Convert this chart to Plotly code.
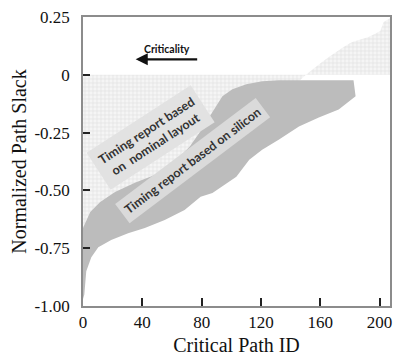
import plotly.graph_objects as go

# Nominal-layout slack, sorted by criticality (hidden under the silicon band where negative)
nominal_x = [0, 5, 10, 20, 30, 40, 50, 60, 70, 80, 90, 100, 110, 120, 130, 140, 150.3,
             155, 161.0, 166, 170.4, 176, 181.1, 187, 192.5, 197, 200.5, 202.7, 206.0, 207]
nominal_y = [-0.80, -0.70, -0.65, -0.62, -0.60, -0.57, -0.53, -0.49, -0.44, -0.39, -0.31,
             -0.22, -0.17, -0.14, -0.10, -0.06, 0.0,
             0.025, 0.054, 0.078, 0.098, 0.121, 0.141, 0.153, 0.163, 0.178, 0.189, 0.228, 0.241, 0.245]

# Silicon-measured slack spread: upper and lower envelopes of the band
silicon_upper_x = [0, 4.9, 11.6, 21.6, 35.0, 48.4, 61.8, 71.9, 78.6, 85.3, 90.0, 94.0,
                   100.7, 110.1, 120.8, 132.2, 150.3, 182.4, 183.8]
silicon_upper_y = [-0.663, -0.593, -0.550, -0.507, -0.467, -0.433, -0.376, -0.311, -0.250,
                   -0.180, -0.137, -0.093, -0.063, -0.041, -0.028, -0.024, -0.024, -0.024, -0.093]
silicon_lower_x = [183.8, 172.4, 159.0, 145.6, 132.2, 120.8, 112.1, 103.4, 87.3, 79.3, 68.5,
                   55.1, 41.7, 30.4, 19.0, 10.3, 5.6, 2.2, 0.9, 0]
silicon_lower_y = [-0.093, -0.150, -0.185, -0.224, -0.280, -0.324, -0.367, -0.441, -0.511,
                   -0.528, -0.585, -0.628, -0.663, -0.685, -0.715, -0.746, -0.789, -0.850,
                   -0.950, -0.970]

x_ticks = [0, 40, 80, 120, 160, 200]
y_ticks = [0.25, 0, -0.25, -0.5, -0.75, -1.0]
y_tick_text = ["0.25", "0", "-0.25", "-0.50", "-0.75", "-1.00"]

fig = go.Figure()

# Light cross-hatched area between zero and the nominal slack curve
fig.add_trace(go.Scatter(
    x=nominal_x, y=nominal_y, mode="lines", line=dict(width=0),
    fill="tozeroy", fillcolor="#f0f0f0",
    fillpattern=dict(shape="+", size=4, solidity=0.3, fgcolor="#cdcdcd", bgcolor="#f5f5f5"),
    hoverinfo="skip", showlegend=False,
))

# Mid-grey band for the silicon measurement
fig.add_trace(go.Scatter(
    x=silicon_upper_x + silicon_lower_x, y=silicon_upper_y + silicon_lower_y,
    mode="lines", line=dict(width=0), fill="toself", fillcolor="#bcbcbc",
    hoverinfo="skip", showlegend=False,
))

label_font = dict(family="Lato", size=12.5, color="#333333")

fig.add_annotation(
    x=45.5, y=-0.27, text="<b>Timing report based<br>on  nominal layout</b>",
    textangle=-33, showarrow=False, font=label_font,
    bgcolor="#e2e2e2", borderpad=6,
)
fig.add_annotation(
    x=74, y=-0.37, text="<b>Timing report based on silicon</b>",
    textangle=-37, showarrow=False, font=label_font,
    bgcolor="#dadada", borderpad=4,
)
fig.add_annotation(
    x=56.5, y=0.111, text="<b>Criticality</b>", showarrow=False,
    font=dict(family="Lato", size=10.5, color="#111111"),
)
fig.add_annotation(
    x=35.5, y=0.067, ax=78, ay=0.067, axref="x", ayref="y",
    text="", showarrow=True, arrowhead=2, arrowsize=1.1, arrowwidth=2.2, arrowcolor="#111111",
)

axis_font = dict(family="Liberation Serif", size=17, color="#111111")
title_font = dict(family="Liberation Serif", size=20, color="#111111")

fig.update_xaxes(
    range=[0, 207], tickvals=x_ticks, ticks="inside", ticklen=8, tickcolor="#222222",
    tickwidth=1.5, showgrid=False, zeroline=False, showline=True, mirror=True,
    linecolor="#8c8c8c", linewidth=1.5, tickfont=axis_font,
    title=dict(text="Critical Path ID", font=title_font, standoff=7),
)
fig.update_yaxes(
    range=[-1.0, 0.25], tickvals=y_ticks, ticktext=y_tick_text, ticks="inside", ticklen=7,
    tickcolor="#222222", tickwidth=1.5, showgrid=False, zeroline=False, showline=True,
    mirror=True, linecolor="#8c8c8c", linewidth=1.5, tickfont=axis_font,
    ticklabelstandoff=8,
    title=dict(text="Normalized Path Slack", font=title_font, standoff=2),
)

fig.update_layout(
    width=396, height=358, margin=dict(l=83, r=4, t=17, b=52),
    paper_bgcolor="white", plot_bgcolor="white",
)

fig.write_html("out.html")
